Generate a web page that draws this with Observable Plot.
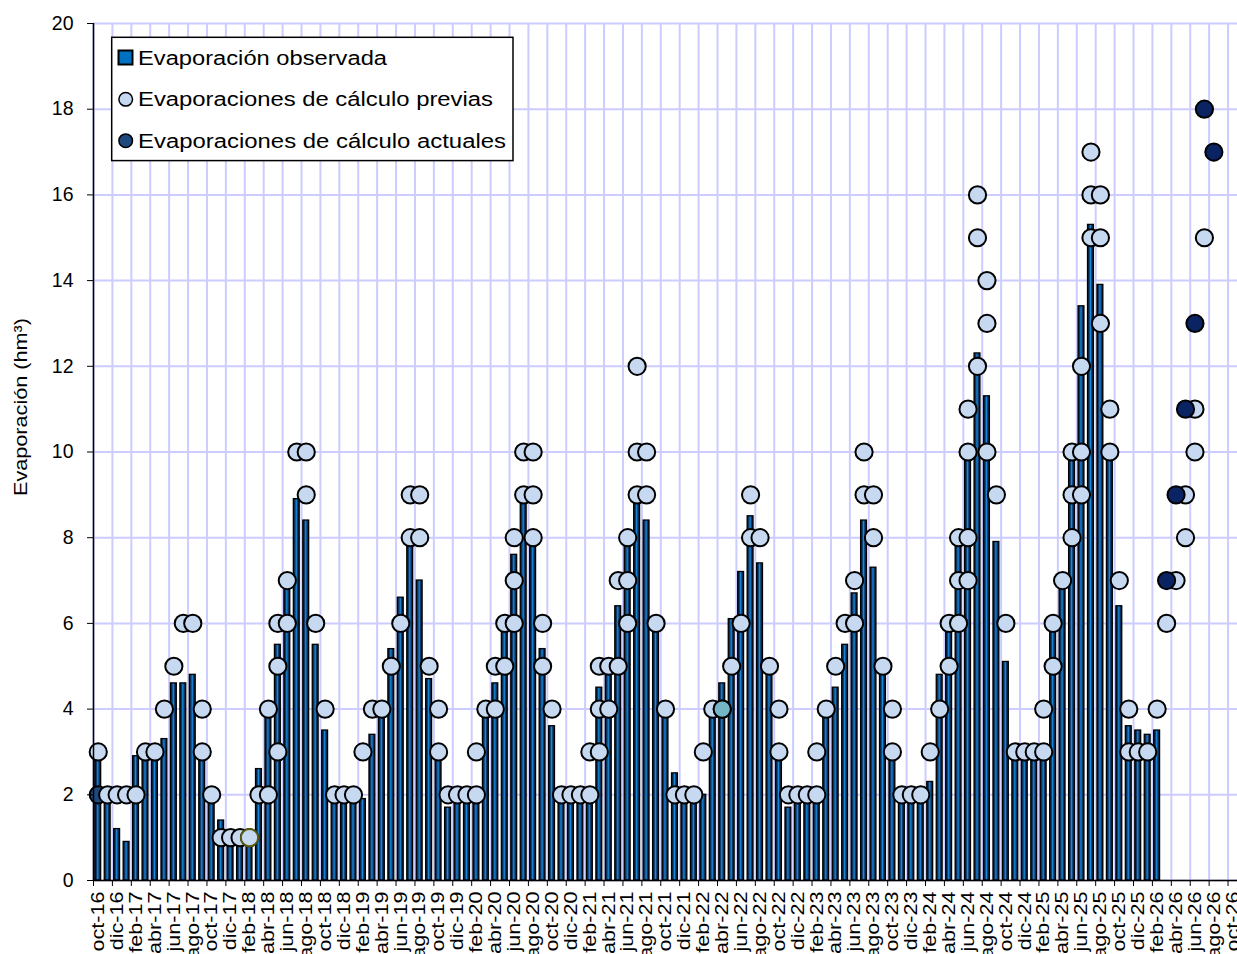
<!DOCTYPE html>
<html><head><meta charset="utf-8">
<script src="https://cdn.jsdelivr.net/npm/d3@7"></script>
<script src="https://cdn.jsdelivr.net/npm/@observablehq/plot@0.6"></script>
<style>
body{margin:0;background:#fff;}
#chart{position:relative;width:1237px;height:954px;overflow:hidden;}
svg{font-family:"Liberation Sans",Arial,sans-serif;}
</style></head><body><div id="chart"></div>
<script>
// ---- Categories ----
const nombresMes = ["oct","nov","dic","ene","feb","mar","abr","may","jun","jul","ago","sep"];
const numMeses = 121; // oct-16 ... oct-26
const meses = [];
for (let i = 0; i < numMeses; i++) meses.push(`${nombresMes[i % 12]}-${16 + Math.floor((i + 9) / 12)}`);
const etiquetasX = meses.filter((m, i) => i % 2 === 0);
const ticksY = [0, 2, 4, 6, 8, 10, 12, 14, 16, 18, 20];

// ---- Evaporación observada (hm3), oct-16 ... feb-26 ----
const observada = [
  2.8, 2.0, 1.2, 0.9, 2.9, 2.8, 2.8, 3.3, 4.6, 4.6, 4.8, 2.8,   // oct-16..sep-17
  1.8, 1.4, 0.9, 0.9, 0.9, 2.6, 3.9, 5.5, 6.8, 8.9, 8.4, 5.5,   // oct-17..sep-18
  3.5, 1.9, 1.9, 1.9, 1.9, 3.4, 3.8, 5.4, 6.6, 7.9, 7.0, 4.7,   // oct-18..sep-19
  2.8, 1.7, 1.9, 1.9, 1.9, 3.8, 4.6, 5.8, 7.6, 8.8, 7.8, 5.4,   // oct-19..sep-20
  3.6, 1.9, 1.9, 1.9, 1.9, 4.5, 4.9, 6.4, 7.8, 8.8, 8.4, 5.8,   // oct-20..sep-21
  3.8, 2.5, 1.9, 1.9, 2.0, 3.9, 4.6, 6.1, 7.2, 8.5, 7.4, 4.9,   // oct-21..sep-22
  2.8, 1.7, 1.9, 1.9, 1.9, 3.8, 4.5, 5.5, 6.7, 8.4, 7.3, 4.8,   // oct-22..sep-23
  2.8, 1.9, 1.9, 1.9, 2.3, 4.8, 5.8, 7.8, 9.8, 12.3, 11.3, 7.9, // oct-23..sep-24
  5.1, 2.8, 2.8, 2.8, 2.8, 5.8, 6.8, 9.8, 13.4, 15.3, 13.9, 9.9, // oct-24..sep-25
  6.4, 3.6, 3.5, 3.4, 3.5                                        // oct-25..feb-26
];

// ---- Evaporaciones de cálculo previas (one list per month, from oct-16) ----
const previas = [
  [3], [2], [2], [2], [2], [3], [3], [4], [5], [6], [6], [4, 3],                 // oct-16..sep-17
  [2], [1], [1], [1], [1], [2], [2, 4], [3, 5, 6], [6, 7], [10], [10, 9], [6],   // oct-17..sep-18
  [4], [2], [2], [2], [3], [4], [4], [5], [6], [8, 9], [8, 9], [5],              // oct-18..sep-19
  [4, 3], [2], [2], [2], [3, 2], [4], [4, 5], [5, 6], [6, 7, 8], [10, 9], [10, 9, 8], [6, 5], // oct-19..sep-20
  [4], [2], [2], [2], [3, 2], [3, 4, 5], [4, 5], [5, 7], [6, 7, 8], [12, 10, 9], [10, 9], [6], // oct-20..sep-21
  [4], [2], [2], [2], [3], [4], [4], [5], [6], [9, 8], [8], [5],                 // oct-21..sep-22
  [4, 3], [2], [2], [2], [3, 2], [4], [5], [6], [6, 7], [10, 9], [9, 8], [5],    // oct-22..sep-23
  [4, 3], [2], [2], [2], [3], [4], [5, 6], [6, 7, 8], [7, 8, 10, 11], [12, 15, 16], [10, 13, 14], [9], // oct-23..sep-24
  [6], [3], [3], [3], [3, 4], [5, 6], [7], [8, 9, 10], [9, 10, 12], [15, 16, 17], [13, 15, 16], [10, 11], // oct-24..sep-25
  [7], [3, 4], [3], [3], [4], [6], [7], [8, 9], [10, 11], [15]                   // oct-25..jul-26
];
// highlighted previous points
const previaTealMes = ["abr-22"], previaTealValor = [4];
const previaOlivaMes = ["feb-18"], previaOlivaValor = [1];

// ---- Evaporaciones de cálculo actuales ----
const actualesMes = ["mar-26", "abr-26", "may-26", "jun-26", "jul-26", "ago-26"];
const actualesValor = [7, 9, 11, 13, 18, 17];
const actualInicialMes = ["oct-16"], actualInicialValor = [2];

// ---- Tables ----
const obsData = observada.map((v, i) => ({mes: meses[i], valor: v}));
const prevData = previas.flatMap((vs, i) => vs.map(v => ({mes: meses[i], valor: v})));
const tealData = previaTealMes.map((m, i) => ({mes: m, valor: previaTealValor[i]}));
const olivaData = previaOlivaMes.map((m, i) => ({mes: m, valor: previaOlivaValor[i]}));
const actData = actualesMes.map((m, i) => ({mes: m, valor: actualesValor[i]}));
const actIniData = actualInicialMes.map((m, i) => ({mes: m, valor: actualInicialValor[i]}));

const W = 1237, H = 954, mL = 93, mR = 0, mT = 23, mB = 74;
const bw = (W - mL - mR) / meses.length;
const grid = "#ccccff";
const R = 8.6;

const plot = Plot.plot({
  width: W, height: H,
  marginLeft: mL, marginRight: mR, marginTop: mT, marginBottom: mB,
  style: {fontFamily: "Liberation Sans, Arial, sans-serif", color: "black", background: "white", overflow: "visible"},
  x: {type: "band", domain: meses, padding: 0},
  y: {domain: [0, 20]},
  marks: [
    Plot.gridY(ticksY, {stroke: grid, strokeOpacity: 1, strokeWidth: 2}),
    Plot.gridX(etiquetasX, {stroke: grid, strokeOpacity: 1, strokeWidth: 2, dx: -bw / 2}),
    Plot.barY(obsData, {x: "mes", y: "valor", fill: "url(#gradBarra)", stroke: "black", strokeWidth: 1.3, insetLeft: 1.8, insetRight: 1.8}),
    Plot.dot(actIniData, {x: "mes", y: "valor", r: R, fill: "#1f497d", stroke: "black", strokeWidth: 2}),
    Plot.dot(prevData, {x: "mes", y: "valor", r: R, fill: "#c6d9f1", stroke: "black", strokeWidth: 2}),
    Plot.dot(tealData, {x: "mes", y: "valor", r: R, fill: "#74b6c8", stroke: "black", strokeWidth: 2}),
    Plot.dot(olivaData, {x: "mes", y: "valor", r: R, fill: "#c6d9f1", stroke: "#5a5a10", strokeWidth: 2}),
    Plot.dot(actData, {x: "mes", y: "valor", r: R, fill: "#0a2463", stroke: "black", strokeWidth: 2}),
    Plot.ruleX([meses[0]], {dx: -bw / 2, stroke: "black", strokeWidth: 1.5}),
    Plot.ruleY([0], {stroke: "black", strokeWidth: 1.5}),
    Plot.axisY({ticks: ticksY, tickSize: 6, tickPadding: 14, label: null, fontSize: 19, tickFormat: d => d}),
    Plot.axisX({ticks: etiquetasX, tickSize: 6, text: null, label: null, dx: -bw / 2}),
    Plot.axisX({ticks: etiquetasX, tickSize: 0, tickPadding: 11, tickRotate: -90, label: null, fontSize: 18})
  ]
});

const svg = d3.select(plot);
// gradient for bars
const defs = svg.insert("defs", ":first-child");
const g = defs.append("linearGradient").attr("id", "gradBarra").attr("x1", "0").attr("x2", "1").attr("y1", "0").attr("y2", "0");
[["0%", "#05121f"], ["30%", "#0b3d70"], ["50%", "#1a8be0"], ["70%", "#0b3d70"], ["100%", "#05121f"]]
  .forEach(([o, c]) => g.append("stop").attr("offset", o).attr("stop-color", c));

// y tick labels size
svg.selectAll('g[aria-label="y-axis tick label"]').attr("font-size", 19.5);
svg.selectAll('g[aria-label="y-axis tick label"] text').attr("font-size", 19.5);
// x tick labels: size and stretch along their length
svg.selectAll('g[aria-label="x-axis tick label"]').attr("font-size", 18);
svg.selectAll('g[aria-label="x-axis tick label"] text').attr("font-size", 18).attr("transform", function () {
  return (this.getAttribute("transform") || "") + " scale(1.2,1)";
});

// y axis title
svg.append("text")
  .attr("transform", "translate(27,407) rotate(-90)")
  .attr("text-anchor", "middle")
  .attr("font-size", 18.5)
  .attr("textLength", 178).attr("lengthAdjust", "spacingAndGlyphs")
  .attr("fill", "black")
  .text("Evaporación (hm³)");

// legend
const leg = svg.append("g").attr("text-anchor", "start");
leg.append("rect").attr("x", 111.7).attr("y", 37.3).attr("width", 401.3).attr("height", 123.3)
  .attr("fill", "white").attr("stroke", "black").attr("stroke-width", 1.5);
leg.append("rect").attr("x", 118.5).attr("y", 50.5).attr("width", 14).attr("height", 14)
  .attr("fill", "#0070c0").attr("stroke", "black").attr("stroke-width", 2);
leg.append("circle").attr("cx", 125.7).attr("cy", 99.3).attr("r", 6.8)
  .attr("fill", "#c6d9f1").attr("stroke", "black").attr("stroke-width", 1.5);
leg.append("circle").attr("cx", 125.7).attr("cy", 140.7).attr("r", 6.8)
  .attr("fill", "#1f497d").attr("stroke", "black").attr("stroke-width", 1.5);
const legTexts = [
  ["Evaporación observada", 64.7, 249],
  ["Evaporaciones de cálculo previas", 105.5, 355],
  ["Evaporaciones de cálculo actuales", 148, 368]
];
legTexts.forEach(([t, y, L]) => leg.append("text").attr("x", 138).attr("y", y)
  .attr("text-anchor", "start")
  .attr("font-size", 19.5).attr("textLength", L).attr("lengthAdjust", "spacingAndGlyphs")
  .attr("fill", "black").text(t));

document.getElementById("chart").appendChild(plot);
</script></body></html>
